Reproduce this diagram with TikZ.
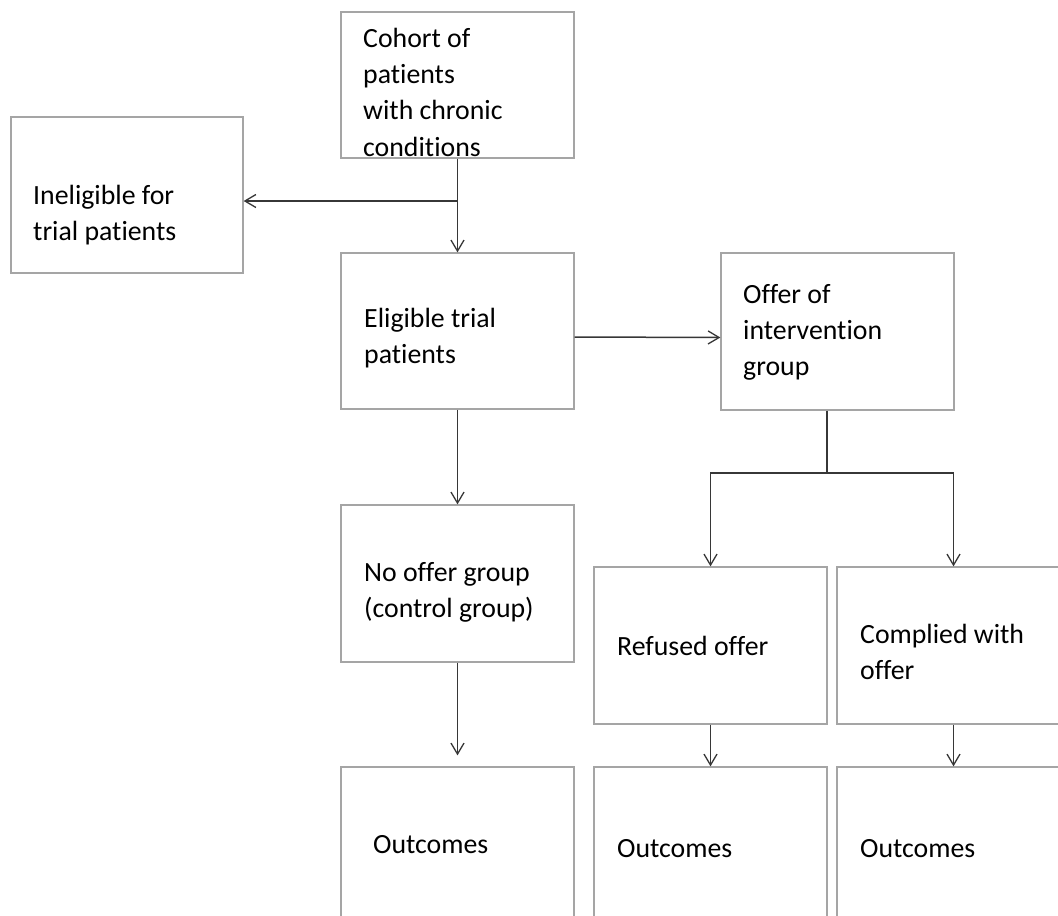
\documentclass[tikz,border=0pt]{standalone}
\usepackage{fontspec}
\setmainfont{Carlito}[Ligatures={NoCommon}]
\usetikzlibrary{arrows.meta}
\definecolor{boxgray}{RGB}{165,165,165}
\definecolor{linegray}{RGB}{55,55,55}
\tikzset{
  boxnode/.style={draw=boxgray, line width=1.3pt, minimum width=233pt, inner sep=0pt, fill=none},
  txtnode/.style={anchor=north west, inner sep=0pt, align=left, font=\fontsize{27.8}{36.4}\selectfont},
  conn/.style={draw=linegray, line width=1.5pt},
  arr/.style={conn, -{Straight Barb[length=11pt,width=13pt,line width=1.3pt]}}
}
\begin{document}
\begin{tikzpicture}[x=1pt,y=-1pt]
\path[use as bounding box, clip] (0,0) rectangle (1058,916);
\fill[white] (0,0) rectangle (1058,916);

% boxes
\node[boxnode, minimum height=146pt] (cohort) at (457.5,85) {};
\node[boxnode, minimum width=232pt, minimum height=156pt] (inel) at (127,195) {};
\node[boxnode, minimum height=156pt] (elig) at (457.5,331) {};
\node[boxnode, minimum height=157pt] (offer) at (837.5,331.5) {};
\node[boxnode, minimum height=157pt] (nooffer) at (457.5,583.5) {};
\node[boxnode, minimum height=157pt] (refused) at (710.5,645.5) {};
\node[boxnode, minimum height=157pt] (complied) at (953.5,645.5) {};
\node[boxnode, minimum height=156pt] (out1) at (457.5,845) {};
\node[boxnode, minimum height=156pt] (out2) at (710.5,845) {};
\node[boxnode, minimum height=156pt] (out3) at (953.5,845) {};

% texts
\node[txtnode] (tcohort) at (363,21.5) {\strut Cohort of\\\strut patients\\\strut with chronic\\\strut conditions};
\node[txtnode] (tinel) at (33,178.5) {\strut Ineligible for\\\strut trial patients};
\node[txtnode] (telig) at (364,301.5) {\strut Eligible trial\\\strut patients};
\node[txtnode] (toffer) at (743,277.5) {\strut Offer of\\\strut intervention\\\strut group};
\node[txtnode] (tnooffer) at (364,555.5) {\strut No offer group\\\strut (control group)};
\node[txtnode] (trefused) at (617,629.5) {\strut Refused offer};
\node[txtnode] (tcomplied) at (860,617.5) {\strut Complied with\\\strut offer};
\node[txtnode] (tout1) at (373,827.5) {\strut Outcomes};
\node[txtnode] (tout2) at (617,831.5) {\strut Outcomes};
\node[txtnode] (tout3) at (860,831.5) {\strut Outcomes};

% connectors
\coordinate (j1) at (457.5,201);
\coordinate (j2) at (827,473);
\draw[arr] (cohort.south) -- (elig.north);
\draw[arr] (j1) -- (j1 -| inel.east);
\draw[arr] ([yshift=-6pt]elig.east) -- ([yshift=-6pt]offer.west);
\draw[arr] (elig.south) -- (nooffer.north);
\draw[conn] (offer.south -| j2) -- (j2);
\draw[arr] (j2) -| (refused.north);
\draw[arr] (j2) -| (complied.north);
\draw[arr, shorten >=11pt] (nooffer.south) -- (out1.north);
\draw[arr] (refused.south) -- (out2.north);
\draw[arr] (complied.south) -- (out3.north);
\end{tikzpicture}
\end{document}
